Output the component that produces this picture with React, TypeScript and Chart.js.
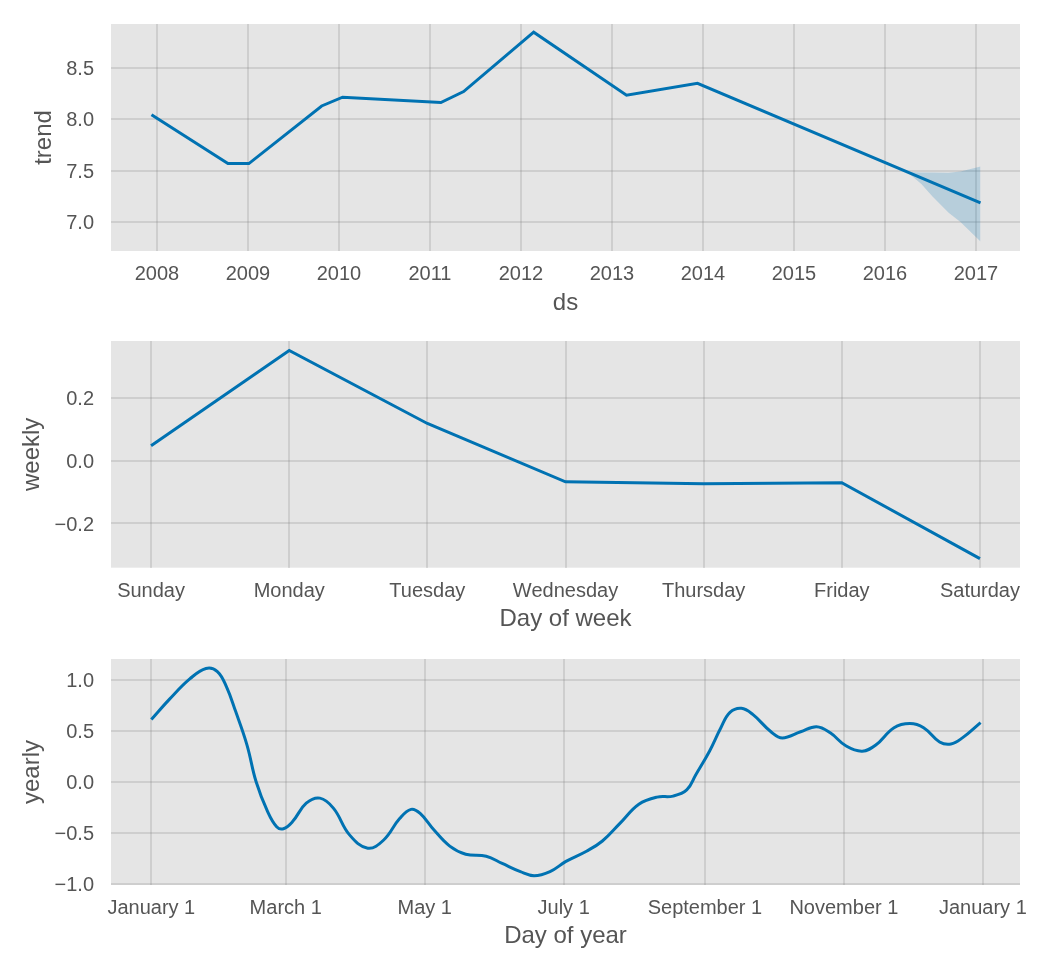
import React, { useEffect, useRef } from 'react';
import { Chart, registerables } from 'chart.js';

Chart.register(...registerables);
Chart.defaults.font.family = "'Liberation Sans', Arial, Helvetica, sans-serif";

// ---------- Trend panel data ----------
const trendYears = [2007.94, 2008.78, 2009.01, 2009.81, 2010.04, 2011.12, 2011.37, 2012.14, 2013.16, 2013.94, 2017.05];
const trendValues = [8.042, 7.568, 7.568, 8.128, 8.213, 8.162, 8.268, 8.845, 8.232, 8.348, 7.185];
const bandYears = [2016.05, 2016.25, 2016.4, 2016.52, 2016.7, 2016.83, 2017.05];
const bandUpper = [7.559, 7.487, 7.482, 7.48, 7.478, 7.49, 7.54];
const bandLower = [7.559, 7.48, 7.37, 7.25, 7.09, 7.0, 6.81];
const trendXTicks = [2008, 2009, 2010, 2011, 2012, 2013, 2014, 2015, 2016, 2017];
const trendYTicks = [7.0, 7.5, 8.0, 8.5];

// ---------- Weekly panel data ----------
const weekDays = ['Sunday', 'Monday', 'Tuesday', 'Wednesday', 'Thursday', 'Friday', 'Saturday'];
const weeklyValues = [0.048, 0.352, 0.119, -0.067, -0.073, -0.07, -0.312];
const weeklyYTicks = [-0.2, 0.0, 0.2];

// ---------- Yearly panel data ----------
const yearDays = [0, 8, 17, 24, 29, 33, 37, 42, 46, 51, 55, 58, 62, 68, 74, 80, 87, 95, 102, 109, 114, 118, 124, 131, 138, 147, 154, 162, 168, 175, 182, 191, 198, 206, 214, 222, 229, 235, 239, 245, 250, 254, 259, 264, 272, 277, 285, 292, 298, 305, 312, 318, 326, 333, 339, 346, 351, 356, 364];
const yearlyValues = [0.61, 0.81, 1.01, 1.11, 1.08, 0.93, 0.69, 0.36, 0.0, -0.29, -0.44, -0.46, -0.39, -0.21, -0.16, -0.26, -0.52, -0.65, -0.57, -0.36, -0.27, -0.31, -0.47, -0.63, -0.71, -0.73, -0.8, -0.88, -0.92, -0.88, -0.78, -0.68, -0.58, -0.4, -0.22, -0.15, -0.14, -0.08, 0.07, 0.3, 0.53, 0.68, 0.72, 0.66, 0.49, 0.43, 0.49, 0.54, 0.48, 0.35, 0.3, 0.36, 0.53, 0.57, 0.53, 0.39, 0.37, 0.43, 0.58];
const yearTickDays = [0, 59, 120, 181, 243, 304, 365];
const yearTickLabels = ['January 1', 'March 1', 'May 1', 'July 1', 'September 1', 'November 1', 'January 1'];
const yearlyYTicks = [-1.0, -0.5, 0.0, 0.5, 1.0];

const LINE = '#0072B2';
const BAND = 'rgba(0,114,178,0.2)';
const GRID = 'rgba(128,128,128,0.22)';
const TEXT = '#555555';

const bgPlugin = {
  id: 'plotBg',
  beforeDraw(chart: any) {
    const { ctx, chartArea } = chart;
    if (!chartArea) return;
    ctx.save();
    ctx.fillStyle = '#E5E5E5';
    ctx.fillRect(chartArea.left, chartArea.top, chartArea.right - chartArea.left, chartArea.bottom - chartArea.top);
    ctx.restore();
  },
};

const fmt = (v: number) => {
  const s = (Math.abs(v) < 1e-9 ? 0 : v).toFixed(1);
  return s.replace('-', '\u2212');
};

const zeroPad = (s: any) => {
  s.paddingTop = 0;
  s.paddingBottom = 0;
  s.paddingLeft = 0;
  s.paddingRight = 0;
};

type PanelCfg = {
  datasets: any[];
  xMin: number; xMax: number; xTicks: number[]; xLabel: (v: number) => string; xTitle: string;
  yMin: number; yMax: number; yTicks: number[]; yTitle: string; yTitlePad: number;
  padTop: number; xAxisHeight: number; xTitlePad: number;
};

function buildConfig(p: PanelCfg): any {
  return {
    type: 'line',
    data: { datasets: p.datasets },
    plugins: [bgPlugin],
    options: {
      animation: false,
      responsive: false,
      events: [],
      layout: { padding: { top: p.padTop, right: 30, left: 0, bottom: 0 } },
      plugins: { legend: { display: false }, tooltip: { enabled: false } },
      scales: {
        x: {
          type: 'linear',
          min: p.xMin,
          max: p.xMax,
          afterFit: (s: any) => { s.height = p.xAxisHeight; zeroPad(s); },
          afterBuildTicks: (s: any) => { s.ticks = p.xTicks.map((v) => ({ value: v })); },
          grid: { color: GRID, lineWidth: 2, drawTicks: false },
          border: { display: false },
          ticks: {
            autoSkip: false, maxRotation: 0, padding: 11.5, color: TEXT, font: { size: 20 },
            callback: (v: any) => p.xLabel(Number(v)),
          },
          title: { display: true, text: p.xTitle, color: TEXT, font: { size: 24 }, padding: { top: 0, bottom: p.xTitlePad } },
        },
        y: {
          type: 'linear',
          min: p.yMin,
          max: p.yMax,
          afterFit: (s: any) => { s.width = 111; zeroPad(s); },
          afterBuildTicks: (s: any) => { s.ticks = p.yTicks.map((v) => ({ value: v })); },
          grid: { color: GRID, lineWidth: 2, drawTicks: false },
          border: { display: false },
          ticks: { padding: 17, labelOffset: 1.5, color: TEXT, font: { size: 20 }, callback: (v: any) => fmt(Number(v)) },
          title: { display: true, text: p.yTitle, color: TEXT, font: { size: 24 }, padding: { top: p.yTitlePad, bottom: 0 } },
        },
      },
    },
  };
}

function Panel({ cfg, top }: { cfg: PanelCfg; top: number }) {
  const ref = useRef<HTMLCanvasElement | null>(null);
  useEffect(() => {
    if (!ref.current) return;
    const chart = new Chart(ref.current, buildConfig(cfg));
    return () => chart.destroy();
  }, []);
  return (
    <canvas
      ref={ref}
      width={1050}
      height={320}
      style={{ position: 'absolute', left: 0, top, width: 1050, height: 320 }}
    />
  );
}

const trendCfg: PanelCfg = {
  datasets: [
    {
      data: trendYears.map((x, i) => ({ x, y: trendValues[i] })),
      borderColor: LINE, borderWidth: 3, pointRadius: 0, tension: 0, fill: false,
    },
    {
      data: bandYears.map((x, i) => ({ x, y: bandUpper[i] })),
      borderColor: 'rgba(0,0,0,0)', borderWidth: 0, pointRadius: 0, backgroundColor: BAND, fill: '+1',
    },
    {
      data: bandYears.map((x, i) => ({ x, y: bandLower[i] })),
      borderColor: 'rgba(0,0,0,0)', borderWidth: 0, pointRadius: 0, fill: false,
    },
  ],
  xMin: 2007.495, xMax: 2017.484, xTicks: trendXTicks, xLabel: (v) => String(Math.round(v)), xTitle: 'ds',
  yMin: 6.718, yMax: 8.925, yTicks: trendYTicks, yTitle: 'trend', yTitlePad: 29.6,
  padTop: 24, xAxisHeight: 69, xTitlePad: 2,
};

const weeklyCfg: PanelCfg = {
  datasets: [
    {
      data: weeklyValues.map((y, i) => ({ x: i, y })),
      borderColor: LINE, borderWidth: 3, pointRadius: 0, tension: 0, fill: false,
    },
  ],
  xMin: -0.29, xMax: 6.29, xTicks: weekDays.map((_, i) => i), xLabel: (v) => weekDays[Math.round(v)] ?? '', xTitle: 'Day of week',
  yMin: -0.341, yMax: 0.382, yTicks: weeklyYTicks, yTitle: 'weekly', yTitlePad: 18,
  padTop: 21, xAxisHeight: 72.3, xTitlePad: 6.6,
};

const yearlyCfg: PanelCfg = {
  datasets: [
    {
      data: yearDays.map((x, i) => ({ x, y: yearlyValues[i] })),
      borderColor: LINE, borderWidth: 3, pointRadius: 0, tension: 0.4, fill: false,
    },
  ],
  xMin: -17.7, xMax: 381.3, xTicks: yearTickDays,
  xLabel: (v) => { const i = yearTickDays.indexOf(Math.round(v)); return i >= 0 ? yearTickLabels[i] : ''; },
  xTitle: 'Day of year',
  yMin: -1.011, yMax: 1.203, yTicks: yearlyYTicks, yTitle: 'yearly', yTitlePad: 18,
  padTop: 19, xAxisHeight: 75, xTitlePad: 8.9,
};

export default function App() {
  return (
    <div style={{ position: 'absolute', left: 0, top: 0, width: 1050, height: 975, background: '#ffffff' }}>
      <Panel cfg={trendCfg} top={0} />
      <Panel cfg={weeklyCfg} top={320} />
      <Panel cfg={yearlyCfg} top={640} />
    </div>
  );
}
